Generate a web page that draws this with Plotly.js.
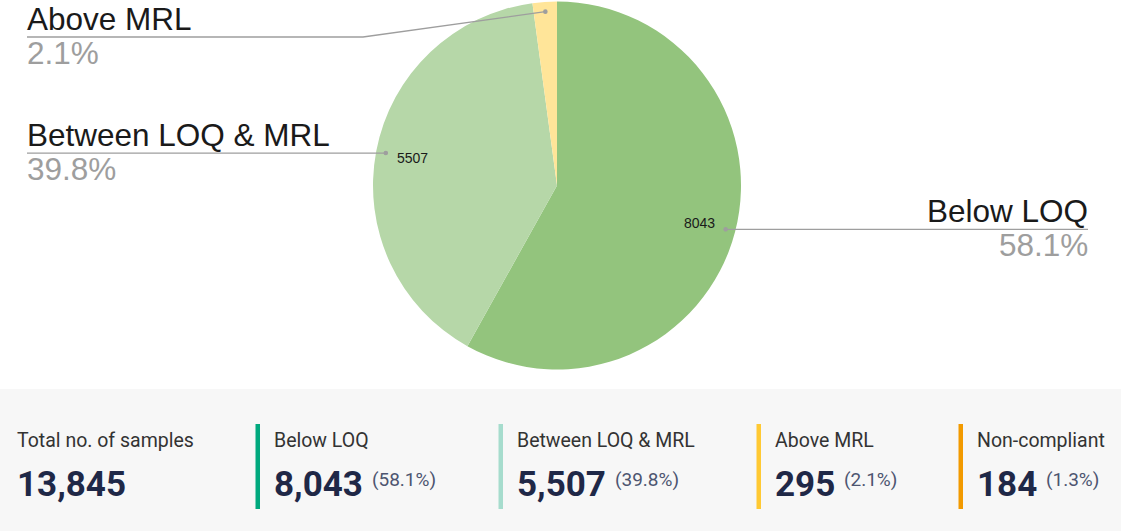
<!DOCTYPE html>
<html><head><meta charset="utf-8">
<script src="https://cdn.plot.ly/plotly-3.0.1.min.js"></script>
<style>html,body{margin:0;padding:0;background:#fff}#chart{width:1122px;height:531px}</style>
</head><body><div id="chart"></div>
<script>
// ---- data ----
const categories = ['Below LOQ', 'Between LOQ & MRL', 'Above MRL'];
const sampleCounts = [8043, 5507, 295];
const sliceColors = ['#93c47d', '#b6d7a8', '#ffe599'];

const statLabels = ['Total no. of samples', 'Below LOQ', 'Between LOQ & MRL', 'Above MRL', 'Non-compliant'];
const statValues = [13845, 8043, 5507, 295, 184];
const statBarColors = [null, '#00a97e', '#a6dccd', '#ffc933', '#f29a00'];

// ---- layout helpers ----
const W = 1122, H = 531;
const px = x => x / W, py = y => 1 - y / H;
const pieCx = 557, pieCy = 185.5, pieR = 184;
const total = statValues[0];
const pctText = v => (v / total * 100).toFixed(1) + '%';

const shapes = [];
const annotations = [];

// pie label geometry derived from data
const sliceSum = sampleCounts.reduce((a, b) => a + b, 0);
let cum = 0;
sampleCounts.forEach((v, i) => {
  const mid = (cum + v / 2) / sliceSum * 2 * Math.PI; // clockwise from 12 o'clock
  cum += v;
  const sx = Math.sin(mid), sy = -Math.cos(mid);
  const dotX = pieCx + pieR * 0.947 * sx, dotY = pieCy + pieR * 0.947 * sy;
  const right = sx > 0;
  const lineY = Math.max(dotY, 37);
  const elbowX = right ? Math.max(dotX, pieCx + pieR + 10) : Math.min(dotX, pieCx - pieR - 10);
  const endX = right ? 1088 : 27;
  shapes.push({
    type: 'path', xref: 'paper', yref: 'paper',
    path: `M ${px(dotX)},${py(dotY)} L ${px(elbowX)},${py(lineY)} L ${px(endX)},${py(lineY)}`,
    line: {color: '#9e9e9e', width: 1.3}
  });
  shapes.push({
    type: 'circle', xref: 'paper', yref: 'paper',
    x0: px(dotX - 2.3), x1: px(dotX + 2.3), y0: py(dotY + 2.3), y1: py(dotY - 2.3),
    fillcolor: '#9e9e9e', line: {width: 0}
  });
  annotations.push({
    xref: 'paper', yref: 'paper', x: px(endX), y: py(lineY - 18),
    xanchor: right ? 'right' : 'left', yanchor: 'middle', showarrow: false,
    text: categories[i], borderpad: 0, borderwidth: 0,
    font: {family: '"Liberation Sans", Arial, sans-serif', size: 31.5, color: '#1a1a1a'}
  });
  annotations.push({
    xref: 'paper', yref: 'paper', x: px(endX), y: py(lineY + 16),
    xanchor: right ? 'right' : 'left', yanchor: 'middle', showarrow: false,
    text: pctText(v), borderpad: 0, borderwidth: 0,
    font: {family: '"Liberation Sans", Arial, sans-serif', size: 31.5, color: '#9e9e9e'}
  });
  if (v / sliceSum >= 0.05) {
    annotations.push({
      xref: 'paper', yref: 'paper',
      x: px(pieCx + pieR * 0.8 * sx), y: py(pieCy + pieR * 0.8 * sy),
      xanchor: 'center', yanchor: 'middle', showarrow: false,
      text: String(v), borderpad: 0, borderwidth: 0,
      font: {family: '"Liberation Sans", Arial, sans-serif', size: 14, color: '#1a1a1a'}
    });
  }
});

// ---- bottom stats panel ----
shapes.push({
  type: 'rect', xref: 'paper', yref: 'paper', layer: 'below',
  x0: px(0), x1: px(1121), y0: py(531), y1: py(389),
  fillcolor: '#f7f7f7', line: {width: 0}
});
const cardTextX = [17, 274, 517, 775, 977];
const ctx = document.createElement('canvas').getContext('2d');
ctx.font = 'bold 35px Roboto';
statLabels.forEach((lab, i) => {
  const x = cardTextX[i];
  if (statBarColors[i]) {
    shapes.push({
      type: 'rect', xref: 'paper', yref: 'paper',
      x0: px(x - 18.5), x1: px(x - 14), y0: py(509), y1: py(424),
      fillcolor: statBarColors[i], line: {width: 0}
    });
  }
  annotations.push({
    xref: 'paper', yref: 'paper', x: px(x), y: py(440.5),
    xanchor: 'left', yanchor: 'middle', showarrow: false,
    text: lab, borderpad: 0, borderwidth: 0,
    font: {family: 'Roboto, sans-serif', size: 19.5, color: '#333333'}
  });
  const numStr = statValues[i].toLocaleString('en-US');
  annotations.push({
    xref: 'paper', yref: 'paper', x: px(x), y: py(484.5),
    xanchor: 'left', yanchor: 'middle', showarrow: false,
    text: '<b>' + numStr + '</b>', borderpad: 0, borderwidth: 0,
    font: {family: 'Roboto, sans-serif', size: 35, color: '#1f2847'}
  });
  if (i > 0) {
    const w = ctx.measureText(numStr).width;
    annotations.push({
      xref: 'paper', yref: 'paper', x: px(x + w + 9), y: py(479.5),
      xanchor: 'left', yanchor: 'middle', showarrow: false,
      text: '(' + pctText(statValues[i]) + ')', borderpad: 0, borderwidth: 0,
      font: {family: 'Roboto, sans-serif', size: 19, color: '#4d5570'}
    });
  }
});

const trace = {
  type: 'pie',
  labels: categories,
  values: sampleCounts,
  marker: {colors: sliceColors, line: {width: 0}},
  sort: false,
  direction: 'clockwise',
  rotation: 0,
  textinfo: 'none',
  hoverinfo: 'label+value+percent',
  showlegend: false,
  domain: {x: [px(pieCx - pieR), px(pieCx + pieR)], y: [py(pieCy + pieR), py(pieCy - pieR)]}
};

const layout = {
  width: W, height: H,
  margin: {l: 0, r: 0, t: 0, b: 0},
  paper_bgcolor: '#ffffff', plot_bgcolor: '#ffffff',
  showlegend: false,
  shapes: shapes,
  annotations: annotations
};
Plotly.newPlot('chart', [trace], layout, {displayModeBar: false, responsive: false});
</script>
</body></html>
